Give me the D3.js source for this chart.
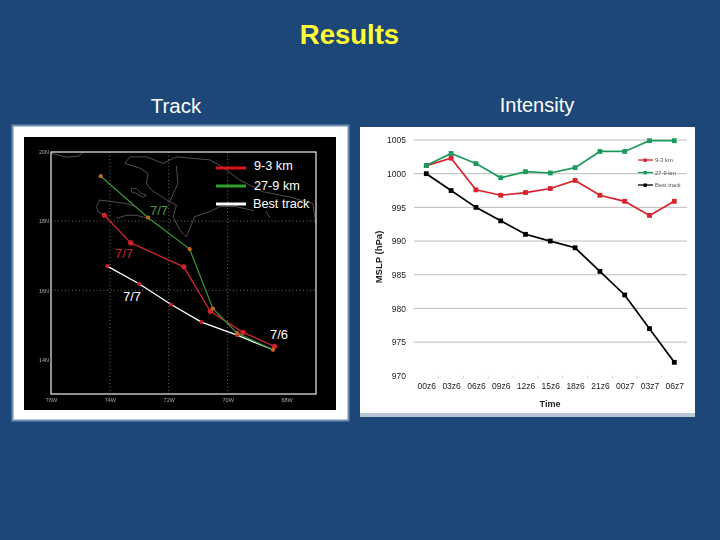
<!DOCTYPE html>
<html>
<head>
<meta charset="utf-8">
<script src="https://cdn.jsdelivr.net/npm/d3@7"></script>
<style>
  html, body { margin: 0; padding: 0; background: #1d4778; }
  svg { display: block; }
  text { font-family: "Liberation Sans", Arial, sans-serif; }
</style>
</head>
<body>
<div id="output"></div>
<script>
// track map data (degrees west, degrees north)
var trackRedLon = [74.19, 73.29, 71.49, 70.59, 69.48, 68.41];
var trackRedLat = [18.17, 17.37, 16.68, 15.39, 14.78, 14.38];
var trackGreenLon = [74.31, 72.70, 71.29, 70.50, 69.68, 68.46];
var trackGreenLat = [19.30, 18.10, 17.19, 15.47, 14.76, 14.28];
var trackBestLon = [74.09, 73.01, 71.92, 70.89, 69.68, 68.46];
var trackBestLat = [16.70, 16.19, 15.59, 15.08, 14.70, 14.28];
var lonTicks = [76, 74, 72, 70, 68];
var latTicks = [20, 18, 16, 14];
var lonGrid = [74, 72, 70];
var latGrid = [18, 16];

// coastlines
var coastNorth = [[72.59,18.90],[72.76,19.09],[72.70,19.38],[72.98,19.53],[73.49,19.67],[73.32,19.86],[72.76,19.86],[72.19,19.67],[71.74,19.86],[70.61,19.77],[70.27,19.62],[69.59,19.19],[68.80,18.85],[67.90,18.70],[67.11,18.51],[67.00,17.93]];
var coastHaitiGulf = [[72.59,18.90],[71.97,18.56]];
var coastSouthA = [[73.10,18.42],[73.44,18.51],[73.89,18.56],[74.34,18.61],[74.45,18.42],[74.40,18.27],[74.17,18.17]];
var coastSouthB = [[73.77,18.08],[73.44,18.17],[73.10,18.17],[72.70,18.08]];
var coastDR = [[71.74,19.60],[71.69,19.09],[71.97,18.56],[71.74,18.46],[71.85,18.13],[71.63,17.74],[71.40,17.55],[71.12,18.13],[70.61,18.27],[70.27,18.42],[69.71,18.42],[69.10,18.30]];
var coastGonave = [[73.27,18.95],[73.10,18.95],[72.93,18.80],[72.76,18.75],[72.87,18.69],[73.10,18.80],[73.27,18.85],[73.27,18.95]];
var coastCuba = [[75.98,19.96],[75.47,19.85],[75.07,19.88],[74.90,19.99]];
var coastSmall = [[68.70,18.30],[68.57,18.10]];
var coasts = [coastNorth, coastHaitiGulf, coastSouthA, coastSouthB, coastDR, coastGonave, coastCuba, coastSmall];

var trackLegend = ["9-3 km", "27-9 km", "Best track"];

// intensity data
var times = ["00z6","03z6","06z6","09z6","12z6","15z6","18z6","21z6","00z7","03z7","06z7"];
var mslpRed = [1001.2,1002.3,997.6,996.8,997.2,997.8,999,996.8,995.9,993.8,995.9];
var mslpGreen = [1001.2,1003,1001.5,999.4,1000.3,1000.1,1000.9,1003.3,1003.3,1004.9,1004.9];
var mslpBest = [1000,997.5,995,993,991,990,989,985.5,982,977,972];
var mslpTicks = [970,975,980,985,990,995,1000,1005];

var svg = d3.select("#output").append("svg")
  .attr("width", 720)
  .attr("height", 540);

var defs = svg.append("defs");
defs.append("filter").attr("id", "soft")
  .append("feGaussianBlur").attr("stdDeviation", 0.45);

// titles
svg.append("text").attr("x", 349.5).attr("y", 43.5).attr("text-anchor", "middle")
  .attr("font-size", 27.5).attr("font-weight", "bold").attr("fill", "#ffff33").text("Results");
svg.append("text").attr("x", 176).attr("y", 113).attr("text-anchor", "middle")
  .attr("font-size", 20.5).attr("fill", "#fff").text("Track");
svg.append("text").attr("x", 537).attr("y", 112).attr("text-anchor", "middle")
  .attr("font-size", 20).attr("fill", "#fff").text("Intensity");

// ---- left panel: track map ----
svg.append("rect").attr("x", 12.5).attr("y", 125.5).attr("width", 336).attr("height", 295)
  .attr("fill", "#fff").attr("stroke", "#6d8db3").attr("stroke-width", 2);
svg.append("rect").attr("x", 24).attr("y", 137).attr("width", 312).attr("height", 273).attr("fill", "#000");

var lonScale = d3.scaleLinear().domain([76, 67]).range([51, 316]);
var latScale = d3.scaleLinear().domain([20, 13]).range([152, 394]);

var map = svg.append("g").attr("filter", "url(#soft)");

map.selectAll("line.lon").data(lonGrid).enter().append("line")
  .attr("x1", function(d) { return lonScale(d); }).attr("x2", function(d) { return lonScale(d); })
  .attr("y1", latScale.range()[0]).attr("y2", latScale.range()[1])
  .attr("stroke", "#999").attr("stroke-width", 0.7).attr("stroke-dasharray", "1,2.5");
map.selectAll("line.lat").data(latGrid).enter().append("line")
  .attr("y1", function(d) { return latScale(d); }).attr("y2", function(d) { return latScale(d); })
  .attr("x1", lonScale.range()[0]).attr("x2", lonScale.range()[1])
  .attr("stroke", "#999").attr("stroke-width", 0.7).attr("stroke-dasharray", "1,2.5");

var geoLine = d3.line()
  .x(function(d) { return lonScale(d[0]); })
  .y(function(d) { return latScale(d[1]); });

map.selectAll("path.coast").data(coasts).enter().append("path")
  .attr("d", geoLine).attr("fill", "none").attr("stroke", "#707070").attr("stroke-width", 0.7);

map.append("rect")
  .attr("x", 51).attr("y", 152).attr("width", 265).attr("height", 242)
  .attr("fill", "none").attr("stroke", "#eee").attr("stroke-width", 1.2);

var lonAxis = d3.axisBottom(lonScale).tickValues(lonTicks).tickSize(0)
  .tickFormat(function(d) { return d + "W"; });
var latAxis = d3.axisLeft(latScale).tickValues(latTicks).tickSize(0)
  .tickFormat(function(d) { return d + "N"; });
var gx = map.append("g").attr("transform", "translate(0,394)").call(lonAxis);
var gy = map.append("g").attr("transform", "translate(51,0)").call(latAxis);
gx.select(".domain").remove();
gy.select(".domain").remove();
gx.selectAll("text").attr("font-size", 5.5).attr("fill", "#aaa").attr("dy", "0.9em")
  .style("font-family", "Liberation Sans");
gy.selectAll("text").attr("font-size", 5.5).attr("fill", "#aaa").attr("dx", "1px")
  .style("font-family", "Liberation Sans");

function drawTrack(lons, lats, lineColor, markColor, r, w) {
  var pts = lons.map(function(d, i) { return [d, lats[i]]; });
  map.append("path").datum(pts).attr("d", geoLine)
    .attr("fill", "none").attr("stroke", lineColor).attr("stroke-width", w);
  map.selectAll(null).data(pts).enter().append("circle")
    .attr("cx", function(d) { return lonScale(d[0]); })
    .attr("cy", function(d) { return latScale(d[1]); })
    .attr("r", r).attr("fill", markColor);
}
drawTrack(trackBestLon, trackBestLat, "#fff", "#c8242c", 2, 1.3);
drawTrack(trackRedLon, trackRedLat, "#c4262c", "#d3242c", 2.6, 1.4);
drawTrack(trackGreenLon, trackGreenLat, "#3a9a35", "#c2661e", 2.1, 1.2);

// track legend
var legendColors = ["#d8141c", "#2fa02c", "#fff"];
var legendY = d3.scalePoint().domain(trackLegend).range([168, 204]);
trackLegend.forEach(function(name, i) {
  svg.append("line").attr("x1", 216).attr("x2", 246)
    .attr("y1", legendY(name)).attr("y2", legendY(name))
    .attr("stroke", legendColors[i]).attr("stroke-width", 3);
  svg.append("text").attr("x", i == 2 ? 253 : 254).attr("y", legendY(name) + (i == 0 ? 2 : 4))
    .attr("font-size", 12.7).attr("fill", "#fff").text(name);
});

// date labels on the tracks
function dateLabel(x, y, color, txt) {
  svg.append("text").attr("x", x).attr("y", y).attr("text-anchor", "middle")
    .attr("font-size", 13).attr("fill", color).text(txt);
}
dateLabel(159, 215, "#3f9f38", "7/7");
dateLabel(124, 258, "#c8242c", "7/7");
dateLabel(132, 301, "#fff", "7/7");
dateLabel(279, 339, "#fff", "7/6");

// ---- right panel: intensity ----
svg.append("rect").attr("x", 360).attr("y", 127).attr("width", 335).attr("height", 286).attr("fill", "#fff");
svg.append("rect").attr("x", 360).attr("y", 413).attr("width", 335).attr("height", 4).attr("fill", "#b9c6d6");

var x = d3.scalePoint().domain(times).range([426.3, 674.3]);
var y = d3.scaleLinear().domain([970, 1005]).range([375.8, 140]);

var chart = svg.append("g").attr("filter", "url(#soft)");

var yAxis = d3.axisLeft(y).tickValues(mslpTicks).tickSize(0).tickFormat(d3.format("d"));
var gLeft = chart.append("g").attr("transform", "translate(409,0)").call(yAxis);
gLeft.select(".domain").remove();
gLeft.selectAll("text").attr("font-size", 8.5).attr("fill", "#222")
  .style("font-family", "Liberation Sans");

chart.selectAll("line.grid").data(mslpTicks.slice(1)).enter().append("line")
  .attr("x1", 414).attr("x2", 687)
  .attr("y1", function(d) { return y(d); }).attr("y2", function(d) { return y(d); })
  .attr("stroke", "#b5b5b5").attr("stroke-width", 0.9);

var xAxis = d3.axisBottom(x).tickSize(0);
var gBottom = chart.append("g").attr("transform", "translate(0,378)").call(xAxis);
gBottom.select(".domain").remove();
gBottom.selectAll("text").attr("font-size", 8.5).attr("fill", "#222").attr("dy", "0.95em")
  .style("font-family", "Liberation Sans");

// little separators between the categories
var step = x.step();
chart.selectAll("line.sep").data(times.slice(1)).enter().append("line")
  .attr("x1", function(d) { return x(d) - step / 2; })
  .attr("x2", function(d) { return x(d) - step / 2; })
  .attr("y1", 375.8).attr("y2", 378.5)
  .attr("stroke", "#c4c4c4").attr("stroke-width", 0.7);

chart.append("text").attr("x", 550).attr("y", 407).attr("text-anchor", "middle")
  .attr("font-size", 9).attr("font-weight", "bold").attr("fill", "#222").text("Time");
chart.append("text").attr("transform", "translate(382,257) rotate(-90)").attr("text-anchor", "middle")
  .attr("font-size", 9.5).attr("font-weight", "bold").attr("fill", "#222").text("MSLP (hPa)");

var valueLine = d3.line()
  .x(function(d, i) { return x(times[i]); })
  .y(function(d) { return y(d); });

function drawSeries(values, color) {
  chart.append("path").datum(values).attr("d", valueLine)
    .attr("fill", "none").attr("stroke", color).attr("stroke-width", 1.7);
  chart.selectAll(null).data(values).enter().append("rect")
    .attr("x", function(d, i) { return x(times[i]) - 2.4; })
    .attr("y", function(d) { return y(d) - 2.4; })
    .attr("width", 4.8).attr("height", 4.8).attr("fill", color);
}
drawSeries(mslpRed, "#d8232e");
drawSeries(mslpGreen, "#1f9a5c");
drawSeries(mslpBest, "#000");

// chart legend
var seriesColors = ["#d8232e", "#1f9a5c", "#000"];
var seriesY = d3.scalePoint().domain(trackLegend).range([160, 185]);
trackLegend.forEach(function(name, i) {
  chart.append("line").attr("x1", 638).attr("x2", 653)
    .attr("y1", seriesY(name)).attr("y2", seriesY(name))
    .attr("stroke", seriesColors[i]).attr("stroke-width", 1.3);
  chart.append("rect").attr("x", 643.5).attr("y", seriesY(name) - 1.5)
    .attr("width", 3.4).attr("height", 3.4).attr("fill", seriesColors[i]);
  chart.append("text").attr("x", 655).attr("y", seriesY(name) + 2)
    .attr("font-size", 5.8).attr("fill", "#555").text(name);
});
</script>
</body>
</html>
